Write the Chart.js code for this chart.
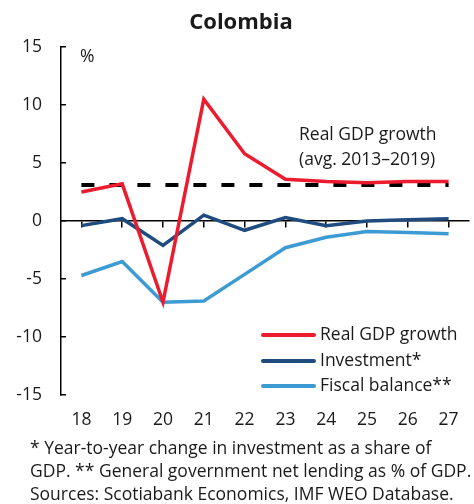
<!DOCTYPE html>
<html>
<head>
<meta charset="utf-8">
<script src="https://cdn.jsdelivr.net/npm/chart.js@4/dist/chart.umd.min.js"></script>
<style>
  html, body { margin: 0; padding: 0; background: #fff; }
  #wrap { width: 474px; height: 504px; position: relative; }
</style>
</head>
<body>
<div id="wrap"><canvas id="c" width="474" height="504"></canvas></div>
<script>
// Years (20xx)
const years = ['18', '19', '20', '21', '22', '23', '24', '25', '26', '27'];
// Series, %
const realGdpGrowth = [2.5, 3.2, -7.0, 10.5, 5.8, 3.6, 3.4, 3.3, 3.4, 3.4];
const investment    = [-0.4, 0.2, -2.1, 0.5, -0.8, 0.3, -0.4, 0.0, 0.1, 0.2];
const fiscalBalance = [-4.7, -3.5, -7.0, -6.9, -4.6, -2.3, -1.4, -0.9, -1.0, -1.1];
// Average real GDP growth, 2013–2019
const avgGrowth = 3.1;
const avgGrowthLine = years.map(() => avgGrowth);

const yMin = -15, yMax = 15, yStep = 5;

const titleText = 'Colombia';
const unitText = '%';
const avgNote = ['Real GDP growth', '(avg. 2013–2019)'];
const footnotes = [
  '* Year-to-year change in investment as a share of',
  'GDP. ** General government net lending as % of GDP.',
  'Sources: Scotiabank Economics, IMF WEO Database.'
];

const FONT = "'Open Sans', 'Noto Sans', sans-serif";
const TEXT = '#1a1a1a';
const RED = '#ec1b2e';
const NAVY = '#1f4b7f';
const SKY = '#3d9bd3';

// Free text: title, unit, note, legend, sources
const textPlugin = {
  id: 'texts',
  afterDraw(chart) {
    const ctx = chart.ctx;
    ctx.save();
    ctx.fillStyle = TEXT;
    ctx.textBaseline = 'middle';

    ctx.font = `bold 22px ${FONT}`;
    ctx.textAlign = 'center';
    ctx.fillText(titleText, 241, 23);

    ctx.font = `17.5px ${FONT}`;
    ctx.textAlign = 'left';
    ctx.fillText(unitText, 80, 57);

    ctx.fillText(avgNote[0], 299, 135);
    ctx.fillText(avgNote[1], 299, 160);

    // Legend
    const rows = [335, 361, 386];
    chart.data.datasets.filter(d => d.inLegend).forEach((d, i) => {
      ctx.strokeStyle = d.borderColor;
      ctx.lineWidth = 4;
      ctx.lineCap = 'round';
      ctx.beginPath();
      ctx.moveTo(263, rows[i]);
      ctx.lineTo(314, rows[i]);
      ctx.stroke();
      ctx.fillStyle = TEXT;
      ctx.fillText(d.label, 320, rows[i]);
    });

    footnotes.forEach((t, i) => ctx.fillText(t, 30, 449 + i * 23));
    ctx.restore();
  }
};

new Chart(document.getElementById('c'), {
  type: 'line',
  data: {
    labels: years,
    datasets: [
      { label: 'Real GDP growth', data: realGdpGrowth, borderColor: RED, borderWidth: 3.5, inLegend: true },
      { label: 'Investment*', data: investment, borderColor: NAVY, borderWidth: 3.5, inLegend: true },
      { label: 'Fiscal balance**', data: fiscalBalance, borderColor: SKY, borderWidth: 3.5, inLegend: true },
      { label: 'Avg. 2013–2019', data: avgGrowthLine, borderColor: '#000', borderWidth: 4, borderDash: [13, 15], inLegend: false }
    ]
  },
  options: {
    responsive: false,
    animation: false,
    devicePixelRatio: 1,
    layout: { padding: { top: 47, right: 5, bottom: 69, left: 0 } },
    elements: { point: { radius: 0 }, line: { tension: 0 } },
    plugins: { legend: { display: false }, tooltip: { enabled: false }, title: { display: false } },
    scales: {
      x: {
        type: 'category',
        position: 'bottom',
        offset: true,
        grid: { display: false, drawTicks: false },
        border: { display: false },
        ticks: { color: TEXT, font: { family: FONT, size: 17.5 }, padding: 15, maxRotation: 0 },
        afterFit(s) { s.height = 40; }
      },
      xZero: {
        type: 'category',
        labels: years,
        position: { y: 0 },
        offset: true,
        grid: { drawOnChartArea: false, drawTicks: true, tickLength: 6, color: '#000', lineWidth: 1.5 },
        border: { display: true, color: '#000', width: 1.5 },
        ticks: { display: false }
      },
      y: {
        min: yMin, max: yMax,
        ticks: { stepSize: yStep, color: TEXT, font: { family: FONT, size: 17.5 }, padding: 24 },
        grid: { drawOnChartArea: false, drawTicks: true, tickLength: -5, color: '#000', lineWidth: 1.5 },
        border: { display: true, color: '#000', width: 1.5 },
        afterFit(s) { s.width = 61; }
      }
    }
  },
  plugins: [textPlugin]
});
</script>
</body>
</html>
